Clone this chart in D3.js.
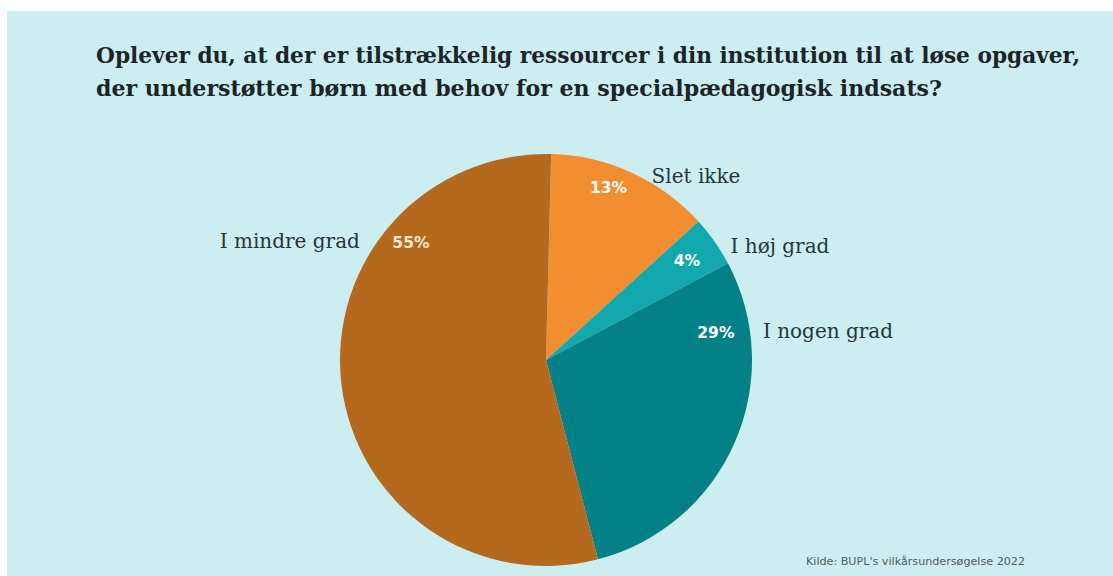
<!DOCTYPE html>
<html><head><meta charset="utf-8">
<script src="https://cdn.jsdelivr.net/npm/d3@7"></script>
<style>html,body{margin:0;padding:0;background:#fff;}</style>
</head><body>
<script>
const categories = ["Slet ikke", "I høj grad", "I nogen grad", "I mindre grad"];
const values = [13, 4, 29, 55];
const pctLabels = ["13%", "4%", "29%", "55%"];
const colors = ["#f28d30", "#12a8ae", "#048087", "#b4691f"];
const titleLines = ["Oplever du, at der er tilstrækkelig ressourcer i din institution til at løse opgaver,",
                    "der understøtter børn med behov for en specialpædagogisk indsats?"];
const source = "Kilde: BUPL's vilkårsundersøgelse 2022";

const W = 1113, H = 576;
const svg = d3.select("body").append("svg").attr("width", W).attr("height", H);
svg.append("rect").attr("x", 7).attr("y", 11).attr("width", W - 7).attr("height", H - 11).attr("fill", "#cdeef0");

// title
const tl = [984, 846];
titleLines.forEach((t, i) => {
  svg.append("text").attr("x", 96).attr("y", 63 + i * 33)
    .attr("font-family", "DejaVu Serif").attr("font-weight", "bold").attr("font-size", 22)
    .attr("fill", "#1b2527").attr("textLength", tl[i]).attr("lengthAdjust", "spacingAndGlyphs").text(t);
});

const cx = 546, cy = 360, R = 206;
const g = svg.append("g").attr("transform", `translate(${cx},${cy})`);
const pie = d3.pie().sort(null).value(d => d).startAngle(0.025).endAngle(0.025 + 2 * Math.PI);
const arcs = pie(values);
const arc = d3.arc().innerRadius(0).outerRadius(R);
g.selectAll("path").data(arcs).join("path").attr("d", arc).attr("fill", (d, i) => colors[i]);

// label layout (degrees clockwise from 12 o'clock)
const pctAngle = [20, 55, 81, 311];
const pctRadius = [183, 172, 172, 179];
const outerAngle = [26.7, 56.4, 81.9, 305.3];
const rad = a => a * Math.PI / 180;

g.selectAll("text.pct").data(arcs).join("text").attr("class", "pct")
  .attr("x", (d, i) => pctRadius[i] * Math.sin(rad(pctAngle[i])))
  .attr("y", (d, i) => -pctRadius[i] * Math.cos(rad(pctAngle[i])))
  .attr("text-anchor", "middle").attr("dominant-baseline", "central")
  .attr("font-family", "DejaVu Sans").attr("font-weight", "bold").attr("font-size", 15.5)
  .attr("fill", (d, i) => i === 3 ? "#fde8d2" : "#ffffff")
  .text((d, i) => pctLabels[i]);

g.selectAll("text.cat").data(arcs).join("text").attr("class", "cat")
  .attr("x", (d, i) => {
    const s = Math.sin(rad(outerAngle[i]));
    return R * s + (s >= 0 ? 13 : -18);
  })
  .attr("y", (d, i) => -R * Math.cos(rad(outerAngle[i])))
  .attr("text-anchor", (d, i) => Math.sin(rad(outerAngle[i])) >= 0 ? "start" : "end")
  .attr("dominant-baseline", "central")
  .attr("font-family", "DejaVu Serif").attr("font-size", 20).attr("fill", "#263638")
  .text((d, i) => categories[i]);

svg.append("text").attr("x", 806).attr("y", 565)
  .attr("font-family", "DejaVu Sans").attr("font-size", 10).attr("fill", "#4e5e60")
  .attr("textLength", 219).attr("lengthAdjust", "spacingAndGlyphs").text(source);
</script>
</body></html>
